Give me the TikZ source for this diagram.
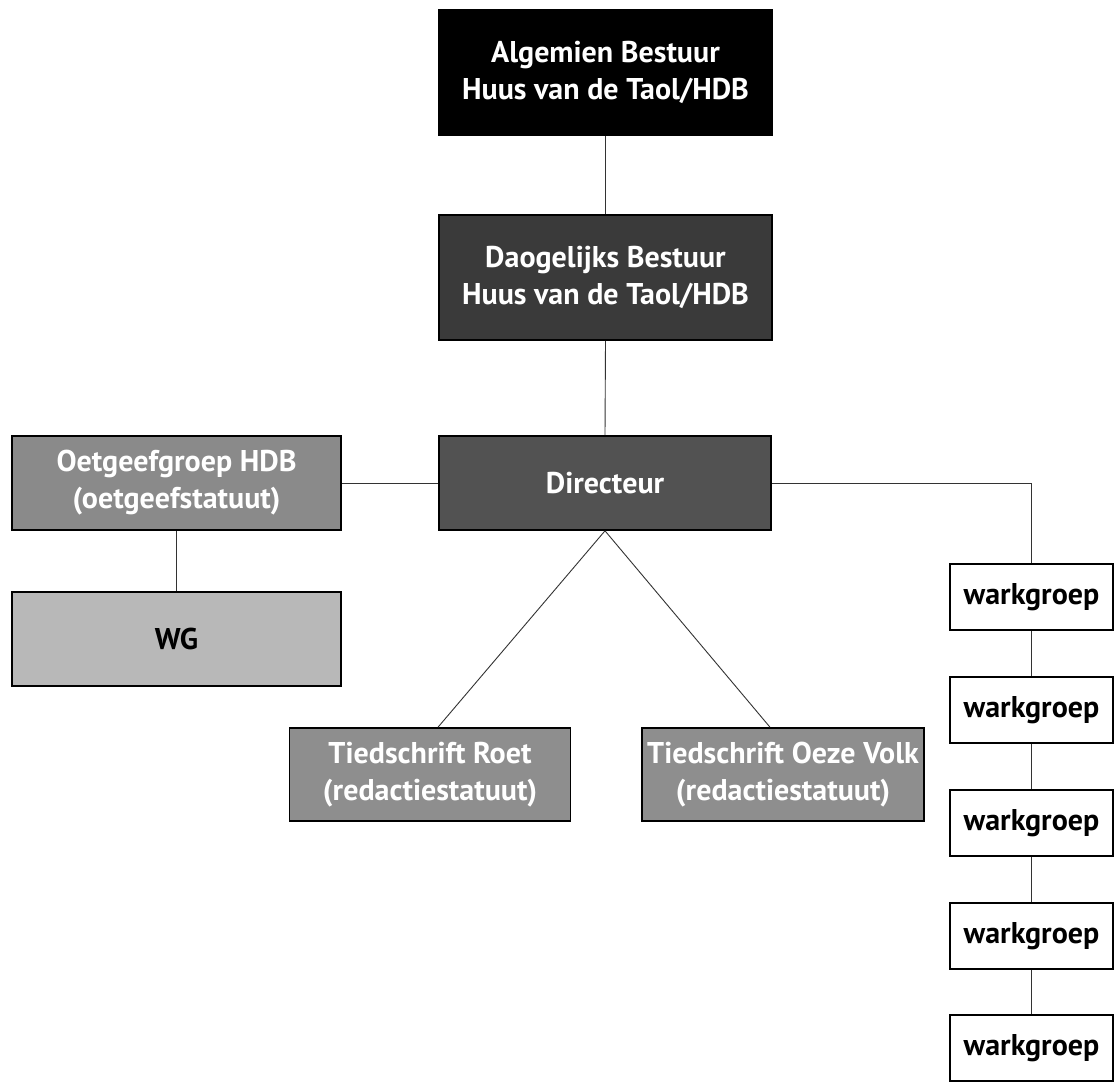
\documentclass[tikz,border=0pt]{standalone}
\usepackage{fontspec}
\setmainfont{PT Sans}
\definecolor{cDag}{HTML}{3A3A3A}
\definecolor{cDir}{HTML}{525252}
\definecolor{cOet}{HTML}{8A8A8A}
\definecolor{cWG}{HTML}{B8B8B8}
\definecolor{cTied}{HTML}{8E8E8E}
\definecolor{cLine}{HTML}{333333}
\begin{document}
\begin{tikzpicture}[x=1pt,y=-1pt,
  orgbox/.style={draw=black,line width=1.6pt,inner sep=0pt,align=center,
    font=\fontsize{30}{37}\selectfont\bfseries,text=white},
  wkbox/.style={draw=black,line width=1.6pt,inner sep=0pt,align=center,fill=white,
    minimum width=163pt,minimum height=66pt,
    font=\fontsize{30}{37}\selectfont\bfseries,text=black},
  conn/.style={draw=cLine,line width=0.9pt}]
\useasboundingbox (0,0) rectangle (1120,1082);
\fill[white] (0,0) rectangle (1120,1082);
\node[orgbox,fill=black,minimum width=333pt,minimum height=125pt] (alg) at (605.5,72.5) {Algemien Bestuur\\Huus van de Taol/HDB};
\node[orgbox,fill=cDag,minimum width=333pt,minimum height=125pt] (dag) at (605.5,277.5) {Daogelijks Bestuur\\Huus van de Taol/HDB};
\node[orgbox,fill=cDir,minimum width=332pt,minimum height=94pt] (dir) at (605,483) {Directeur};
\node[orgbox,fill=cOet,minimum width=329pt,minimum height=94pt] (oet) at (176.5,483) {Oetgeefgroep HDB\\(oetgeefstatuut)};
\node[orgbox,fill=cWG,text=black,minimum width=329pt,minimum height=94pt] (wg) at (176.5,639) {WG};
\node[orgbox,fill=cTied,minimum width=281pt,minimum height=93pt] (roet) at (430,774.5) {Tiedschrift Roet\\(redactiestatuut)};
\node[orgbox,fill=cTied,minimum width=282pt,minimum height=93pt] (oeze) at (783,774.5) {Tiedschrift Oeze Volk\\(redactiestatuut)};
\node[wkbox] (wk1) at (1031.5,597) {warkgroep};
\node[wkbox] (wk2) at (1031.5,710) {warkgroep};
\node[wkbox] (wk3) at (1031.5,823) {warkgroep};
\node[wkbox] (wk4) at (1031.5,936) {warkgroep};
\node[wkbox] (wk5) at (1031.5,1048) {warkgroep};
\draw[conn] (alg.south) -- (dag.north);
\draw[conn] (dag.south) -- (dir.north);
\draw[conn] (oet.east) -- (dir.west);
\draw[conn] (oet.south) -- (wg.north);
\draw[conn] (dir.south) -- ([xshift=8pt]roet.north);
\draw[conn] (dir.south) -- ([xshift=-13pt]oeze.north);
\draw[conn] (dir.east) -| (wk1.north);
\draw[conn] (wk1.south) -- (wk2.north);
\draw[conn] (wk2.south) -- (wk3.north);
\draw[conn] (wk3.south) -- (wk4.north);
\draw[conn] (wk4.south) -- (wk5.north);
\end{tikzpicture}
\end{document}
